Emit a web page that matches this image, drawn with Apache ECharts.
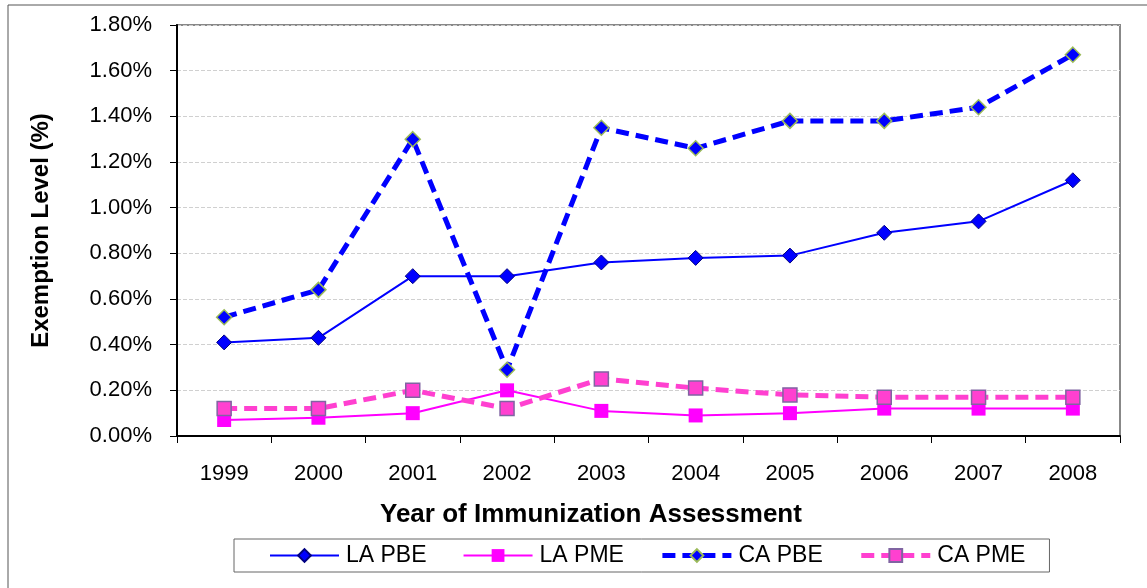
<!DOCTYPE html>
<html>
<head>
<meta charset="utf-8">
<script src="https://cdn.jsdelivr.net/npm/echarts@6/dist/echarts.min.js"></script>
<style>
html,body{margin:0;padding:0;background:#fff;}
#chart{width:1147px;height:588px;}
</style>
</head>
<body>
<div id="chart"></div>
<script>
// data (percent)
var years = ['1999','2000','2001','2002','2003','2004','2005','2006','2007','2008'];
var laPBE = [0.41,0.43,0.70,0.70,0.76,0.78,0.79,0.89,0.94,1.12];
var laPME = [0.07,0.08,0.10,0.20,0.11,0.09,0.10,0.12,0.12,0.12];
var caPBE = [0.52,0.64,1.30,0.29,1.35,1.26,1.38,1.38,1.44,1.67];
var caPME = [0.12,0.12,0.20,0.12,0.25,0.21,0.18,0.17,0.17,0.17];

var font = 'Liberation Sans, Arial, sans-serif';
var chart = echarts.init(document.getElementById('chart'));

var option = {
	animation:false,
	textStyle:{fontFamily:font},
	graphic:[{
		type:'rect',
		shape:{x:8,y:5,width:1160,height:610},
		style:{fill:'none',stroke:'#555',lineWidth:1}
	},{
		//x axis title sits left of the plot centre in the original
		type:'text',
		left:380,
		top:502,
		style:{
			text:'Year of Immunization Assessment',
			font:'bold 26px Liberation Sans, Arial, sans-serif',
			fill:'#000'
		}
	}],
	grid:{
		left:177,
		right:27,
		top:25,
		bottom:152,
		show:true,
		borderColor:'#888',
		borderWidth:2
	},
	legend:{
		left:234,
		top:539,
		padding:[5,24,5,35],
		itemGap:36,
		itemWidth:69,
		itemHeight:16,
		borderColor:'#666',
		borderWidth:1,
		textStyle:{fontFamily:font,fontSize:23,color:'#000',padding:[0,0,0,2]},
		data:[
			{name:'LA PBE',lineStyle:{width:2}},
			{name:'LA PME',lineStyle:{width:2}},
			{name:'CA PBE',lineStyle:{width:5}},
			{name:'CA PME',lineStyle:{width:5}}
		]
	},
	xAxis:{
		type:'category',
		data:years,
		boundaryGap:true,
		axisLine:{lineStyle:{color:'#000',width:2}},
		axisTick:{show:true,length:7,lineStyle:{color:'#000'}},
		axisLabel:{fontFamily:font,fontSize:22,color:'#000',margin:27}
	},
	yAxis:{
		type:'value',
		min:0,
		max:1.8,
		interval:0.2,
		name:'Exemption Level (%)',
		nameLocation:'middle',
		nameGap:124,
		nameTextStyle:{fontFamily:font,fontSize:24,fontWeight:'bold',color:'#000'},
		axisLine:{show:true,lineStyle:{color:'#000',width:2}},
		axisTick:{show:true,length:7,lineStyle:{color:'#000'}},
		axisLabel:{fontFamily:font,fontSize:22,color:'#000',margin:25,
			formatter:function(v){return v.toFixed(2)+'%';}},
		splitLine:{lineStyle:{color:'#d0d0d0',type:'dashed',width:1}}
	},
	series:[
		{
			name:'LA PBE',
			type:'line',
			data:laPBE,
			symbol:'diamond',
			symbolSize:15,
			lineStyle:{color:'#0000ff',width:2},
			itemStyle:{color:'#0000ff',borderColor:'#000080',borderWidth:1}
		},
		{
			name:'LA PME',
			type:'line',
			data:laPME,
			symbol:'rect',
			symbolSize:14,
			lineStyle:{color:'#ff00ff',width:2},
			itemStyle:{color:'#ff00ff',borderWidth:0}
		},
		{
			name:'CA PBE',
			type:'line',
			data:caPBE,
			symbol:'diamond',
			symbolSize:15,
			lineStyle:{color:'#0000ff',width:5,type:[13,7]},
			itemStyle:{color:'#0000ff',borderColor:'#9bbb59',borderWidth:1.5}
		},
		{
			name:'CA PME',
			type:'line',
			data:caPME,
			symbol:'rect',
			symbolSize:14,
			lineStyle:{color:'#ff40d0',width:5,type:[13,7]},
			itemStyle:{color:'#ff40d0',borderColor:'#8064a2',borderWidth:1.5}
		}
	]
};
chart.setOption(option);
</script>
</body>
</html>
